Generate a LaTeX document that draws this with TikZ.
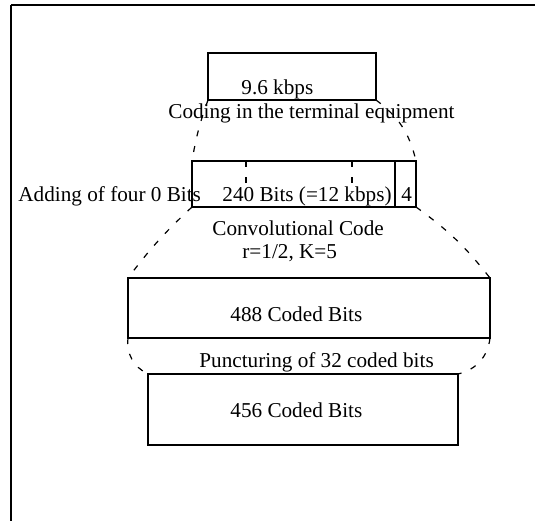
\documentclass[tikz,border=0pt]{standalone}
\usepackage{fontspec}
\setmainfont{Liberation Serif}
\begin{document}
\begin{tikzpicture}[x=0.5pt,y=0.5pt,
        box/.style={draw, thick, inner sep=0pt, outer sep=0pt},
        lbl/.style={inner sep=0pt, anchor=base west, font=\fontsize{10.6}{12.7}\selectfont},
        link/.style={line width=0.6pt, dash pattern=on 3pt off 5pt}]
        \useasboundingbox (0,0) rectangle (535,-521);
        \draw[thick](11,-5)--(535,-5);
        \draw[thick](11,-5)--(11,-521);
        \node[box, minimum width=84pt, minimum height=23.5pt](rate) at (292,-76.5){};
        \node[box, minimum width=101.5pt, minimum height=23pt](block) at (293.5,-184){};
        \node[box, minimum width=10.5pt, minimum height=23pt](tail) at (405.5,-184){};
        \node[box, minimum width=181pt, minimum height=30pt](coded) at (309,-308){};
        \node[box, minimum width=155pt, minimum height=35.5pt](punct) at (303,-409.5){};
        \draw[link](246,-161)--(246,-186);
        \draw[link](352,-161)--(352,-186);
        \node[lbl](rtxt) at (241,-94){9.6 kbps};
        \node[lbl](ctxt) at (168,-118){Coding in the terminal equipment};
        \node[lbl](atxt) at (18,-201){Adding of four 0 Bits};
        \node[lbl](btxt) at (222,-201){240 Bits (=12 kbps)};
        \node[lbl](ttxt) at (401,-201){4};
        \node[lbl](vtxt) at (212,-235){Convolutional Code};
        \node[lbl](ktxt) at (242,-258){r=1/2, K=5};
        \node[lbl](etxt) at (230,-321){488 Coded Bits};
        \node[lbl](ptxt) at (199,-367){Puncturing of 32 coded bits};
        \node[lbl](ftxt) at (230,-417){456 Coded Bits};
        \draw[link](rate.south west) to[bend right=5] (block.north west);
        \draw[link](rate.south east) to[bend left=20] (tail.north east);
        \draw[link](block.south west) to[bend right=5] (coded.north west);
        \draw[link](tail.south east) to[bend left=8] (coded.north east);
        \draw[link](coded.south west) to[bend right=35] (punct.north west);
        \draw[link](coded.south east) to[bend left=35] (punct.north east);
    \end{tikzpicture}
\end{document}
